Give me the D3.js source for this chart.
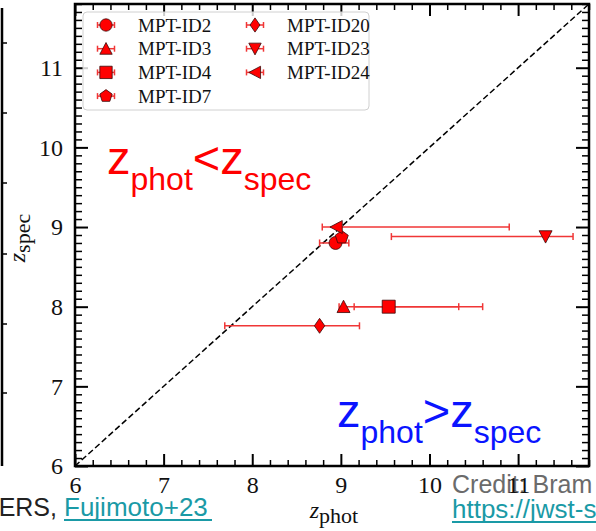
<!DOCTYPE html>
<html>
<head>
<meta charset="utf-8">
<script src="https://cdn.jsdelivr.net/npm/d3@7"></script>
<style>
  html, body { margin: 0; padding: 0; background: #fff; }
  svg { display: block; }
  .tick text { font-family: "Liberation Serif", "Times New Roman", serif; fill: #111; }
</style>
</head>
<body>
<div id="chart"></div>
<script>
// galaxy ids, as in the legend
const ids = ["MPT-ID2", "MPT-ID3", "MPT-ID4", "MPT-ID7", "MPT-ID20", "MPT-ID23", "MPT-ID24"];
// photometric redshift with lower/upper ends of the error bar
const zPhot   = [8.94, 9.03, 9.54, 9.01, 8.76, 11.31, 8.95];
const zPhotLo = [8.76, 8.98, 9.15, 8.97, 7.69, 9.57, 8.79];
const zPhotHi = [9.09, 10.33, 10.60, 9.05, 9.21, 11.62, 10.90];
// spectroscopic redshift
const zSpec   = [8.80, 8.00, 8.00, 8.87, 7.76, 8.88, 9.00];

const majorTicks = [6, 7, 8, 9, 10, 11];
const axisRange = [6, 11.8];

const width = 596, height = 531;
const plotL = 75, plotR = 589, plotT = 4, plotB = 466;

const markerShape = {
  "MPT-ID2": "circle", "MPT-ID3": "up", "MPT-ID4": "square", "MPT-ID7": "pentagon",
  "MPT-ID20": "diamond", "MPT-ID23": "down", "MPT-ID24": "left"
};

function shapePath(shape, k) {
  const h = 6.5 * k;
  let pts;
  switch (shape) {
    case "circle": {
      const p = d3.path(); p.arc(0, 0, h, 0, 2 * Math.PI); p.closePath(); return p.toString();
    }
    case "square": pts = [[-h, -h], [h, -h], [h, h], [-h, h]]; break;
    case "up": pts = [[0, -h], [h, h * 0.9], [-h, h * 0.9]]; break;
    case "down": pts = [[0, h], [h, -h * 0.9], [-h, -h * 0.9]]; break;
    case "left": pts = [[-h, 0], [h * 0.9, -h], [h * 0.9, h]]; break;
    case "diamond": pts = [[0, -h * 1.15], [h * 0.8, 0], [0, h * 1.15], [-h * 0.8, 0]]; break;
    case "pentagon":
      pts = d3.range(5).map(i => {
        const a = -Math.PI / 2 + i * 2 * Math.PI / 5;
        return [h * 1.05 * Math.cos(a), h * 1.05 * Math.sin(a)];
      });
      break;
  }
  return "M" + pts.map(p => p.join(",")).join("L") + "Z";
}

const svg = d3.select("#chart").append("svg")
  .attr("width", width).attr("height", height);

const x = d3.scaleLinear().domain(axisRange).range([plotL, plotR]);
const y = d3.scaleLinear().domain(axisRange).range([plotB, plotT]);

// partial frame of the neighbouring panel on the slide
svg.append("line")
  .attr("x1", 2).attr("x2", 2).attr("y1", 8).attr("y2", 466)
  .attr("stroke", "#000").attr("stroke-width", 2.5);
svg.selectAll(".nbtick").data([43, 113, 183, 254, 324, 393]).enter()
  .append("line")
  .attr("x1", 2).attr("x2", 7).attr("y1", d => d).attr("y2", d => d)
  .attr("stroke", "#000").attr("stroke-width", 1.5);

// credits under the slide
const sans = "'Liberation Sans', Arial, sans-serif";
svg.append("text").attr("x", 452).attr("y", 493)
  .attr("font-family", sans).attr("font-size", 25).attr("fill", "#6b6b6b")
  .text("Credit: Bram");

svg.append("defs").append("clipPath").attr("id", "plotclip")
  .append("rect").attr("x", plotL).attr("y", plotT)
  .attr("width", plotR - plotL).attr("height", plotB - plotT);

// minor + major ticks, all pointing inward
const minorX = d3.range(6, 11.81, 0.2).filter(v => Math.abs(v - Math.round(v)) > 1e-6);
const minorY = d3.range(6, 11.81, 0.1).filter(v => Math.abs(v - Math.round(v)) > 1e-6);

function styleAxis(g) {
  g.select(".domain").remove();
  g.selectAll(".tick line").attr("stroke", "#000");
}

svg.append("g").attr("transform", `translate(0,${plotB})`)
  .call(d3.axisBottom(x).tickValues(minorX).tickSize(-6).tickFormat(""))
  .call(styleAxis).selectAll(".tick line").attr("stroke-width", 1.5);
svg.append("g").attr("transform", `translate(0,${plotB})`)
  .call(d3.axisBottom(x).tickValues(majorTicks).tickSize(-12).tickPadding(10).tickFormat(d3.format("d")))
  .call(styleAxis)
  .call(g => g.selectAll(".tick line").attr("stroke-width", 2))
  .call(g => g.selectAll(".tick text").attr("font-size", 24));

svg.append("g").attr("transform", `translate(0,${plotT})`)
  .call(d3.axisTop(x).tickValues(minorX).tickSize(-6).tickFormat(""))
  .call(styleAxis).selectAll(".tick line").attr("stroke-width", 1.5);
svg.append("g").attr("transform", `translate(0,${plotT})`)
  .call(d3.axisTop(x).tickValues(majorTicks).tickSize(-12).tickFormat(""))
  .call(styleAxis).selectAll(".tick line").attr("stroke-width", 2);

svg.append("g").attr("transform", `translate(${plotL},0)`)
  .call(d3.axisLeft(y).tickValues(minorY).tickSize(-7).tickFormat(""))
  .call(styleAxis).selectAll(".tick line").attr("stroke-width", 1.5);
svg.append("g").attr("transform", `translate(${plotL},0)`)
  .call(d3.axisLeft(y).tickValues(majorTicks).tickSize(-13).tickPadding(12).tickFormat(d3.format("d")))
  .call(styleAxis)
  .call(g => g.selectAll(".tick line").attr("stroke-width", 2))
  .call(g => g.selectAll(".tick text").attr("font-size", 24));

svg.append("g").attr("transform", `translate(${plotR},0)`)
  .call(d3.axisRight(y).tickValues(minorY).tickSize(-7).tickFormat(""))
  .call(styleAxis).selectAll(".tick line").attr("stroke-width", 1.5);
svg.append("g").attr("transform", `translate(${plotR},0)`)
  .call(d3.axisRight(y).tickValues(majorTicks).tickSize(-13).tickFormat(""))
  .call(styleAxis).selectAll(".tick line").attr("stroke-width", 2);

// one-to-one line
svg.append("line")
  .attr("clip-path", "url(#plotclip)")
  .attr("x1", x(axisRange[0])).attr("y1", y(axisRange[0]))
  .attr("x2", x(axisRange[1])).attr("y2", y(axisRange[1]))
  .attr("stroke", "#000").attr("stroke-width", 1.5).attr("stroke-dasharray", "6,3");

// frame
svg.append("rect")
  .attr("x", plotL).attr("y", plotT).attr("width", plotR - plotL).attr("height", plotB - plotT)
  .attr("fill", "none").attr("stroke", "#000").attr("stroke-width", 2.5);

// legend
const legend = svg.append("g");
legend.append("rect")
  .attr("x", 83).attr("y", 12).attr("width", 286).attr("height", 98).attr("rx", 4)
  .attr("fill", "#fff").attr("fill-opacity", 0.8).attr("stroke", "#d0d0d0").attr("stroke-width", 1);

const errColor = "#f03636";
const markFill = "#ff0000";
const markEdge = "#3a0a0a";

const entries = legend.selectAll(".entry").data(ids).enter().append("g")
  .attr("transform", (d, i) => {
    const col = i < 4 ? 0 : 1;
    const row = i < 4 ? i : i - 4;
    return `translate(${106 + col * 149},${25 + row * 23.7})`;
  });
entries.append("line").attr("x1", -8.5).attr("x2", 8.5).attr("y1", 0).attr("y2", 0)
  .attr("stroke", errColor).attr("stroke-width", 1.5);
entries.selectAll(".cap").data([-8.5, 8.5]).enter().append("line")
  .attr("x1", d => d).attr("x2", d => d).attr("y1", -3).attr("y2", 3)
  .attr("stroke", errColor).attr("stroke-width", 1.5);
entries.append("path").attr("d", d => shapePath(markerShape[d], 0.95))
  .attr("fill", markFill).attr("stroke", markEdge).attr("stroke-width", 0.8);
entries.append("text").attr("x", 32).attr("y", 6.5)
  .attr("font-family", "'Liberation Serif', 'Times New Roman', serif").attr("font-size", 19)
  .attr("fill", "#111").text(d => d);

// data points with horizontal error bars
const pts = svg.append("g").selectAll(".pt").data(ids).enter().append("g");
pts.append("line")
  .attr("x1", (d, i) => x(zPhotLo[i])).attr("x2", (d, i) => x(zPhotHi[i]))
  .attr("y1", (d, i) => y(zSpec[i])).attr("y2", (d, i) => y(zSpec[i]))
  .attr("stroke", errColor).attr("stroke-width", 1.5);
pts.each(function (d, i) {
  d3.select(this).selectAll(".cap").data([zPhotLo[i], zPhotHi[i]]).enter().append("line")
    .attr("x1", v => x(v)).attr("x2", v => x(v))
    .attr("y1", y(zSpec[i]) - 3.5).attr("y2", y(zSpec[i]) + 3.5)
    .attr("stroke", errColor).attr("stroke-width", 1.5);
});
pts.append("path")
  .attr("transform", (d, i) => `translate(${x(zPhot[i])},${y(zSpec[i])})`)
  .attr("d", d => shapePath(markerShape[d], 1))
  .attr("fill", markFill).attr("stroke", markEdge).attr("stroke-width", 0.8);

// region annotations
function regionLabel(px, py, color, sign) {
  const t = svg.append("text").attr("x", px).attr("y", py)
    .attr("font-family", sans).attr("font-size", 47).attr("fill", color);
  t.append("tspan").text("z");
  t.append("tspan").attr("font-size", 32).attr("dy", 16).text("phot");
  t.append("tspan").attr("dy", -16).text(sign);
  t.append("tspan").text("z");
  t.append("tspan").attr("font-size", 32).attr("dy", 16).text("spec");
}
regionLabel(107, 174, "#ff0000", "<");
regionLabel(337, 427, "#0a14ff", ">");

// axis labels
const serif = "'Liberation Serif', 'Times New Roman', serif";
const xl = svg.append("text").attr("x", 334).attr("y", 518).attr("text-anchor", "middle")
  .attr("font-family", serif).attr("fill", "#111");
xl.append("tspan").attr("font-size", 24).attr("font-style", "italic").text("z");
xl.append("tspan").attr("font-size", 22).attr("dy", 5).text("phot");

const yl = svg.append("text").attr("transform", "translate(25,238) rotate(-90)")
  .attr("text-anchor", "middle").attr("font-family", serif).attr("fill", "#111");
yl.append("tspan").attr("font-size", 24).attr("font-style", "italic").text("z");
yl.append("tspan").attr("font-size", 22).attr("dy", 5).text("spec");

// slide references
const teal = "#1a9aa6";
svg.append("text").attr("x", 57).attr("y", 516).attr("text-anchor", "end")
  .attr("font-family", sans).attr("font-size", 25).attr("fill", "#222").text("ERS,");
svg.append("text").attr("x", 64).attr("y", 516)
  .attr("font-family", sans).attr("font-size", 26).attr("fill", teal).text("Fujimoto+23");
svg.append("line").attr("x1", 64).attr("x2", 212).attr("y1", 520).attr("y2", 520)
  .attr("stroke", teal).attr("stroke-width", 2);
svg.append("text").attr("x", 452).attr("y", 518)
  .attr("font-family", sans).attr("font-size", 26).attr("fill", teal).text("https://jwst-science");
svg.append("line").attr("x1", 452).attr("x2", 596).attr("y1", 522).attr("y2", 522)
  .attr("stroke", teal).attr("stroke-width", 2);
</script>
</body>
</html>
